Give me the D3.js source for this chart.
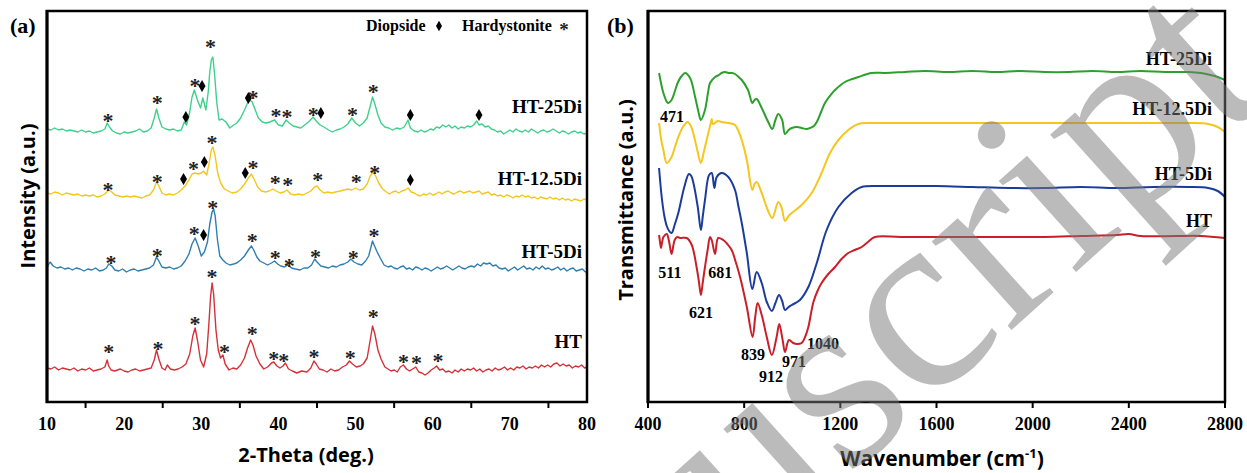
<!DOCTYPE html>
<html lang="en">
<head>
<meta charset="utf-8">
<script src="https://d3js.org/d3.v7.min.js"></script>
<style>
  body { margin: 0; background: #fff; }
  svg { display: block; }
  .serif { font-family: "Liberation Serif", "Times New Roman", serif; font-weight: bold; }
  .sans { font-family: "Open Sans", "Noto Sans", sans-serif; font-weight: bold; }
</style>
</head>
<body>
<svg id="chart" width="1247" height="473"></svg>
<script>
// ---------- data (a): XRD, 2-theta vs intensity (a.u., stacked) ----------
const xrdHT = [[10,34],[10.5,33],[11,35],[11.5,32],[12,34],[12.5,33],[13,32],[13.5,34],[14,31],[14.5,33],[15,32],[15.5,34],[16,31],[16.5,32],[17,33],[17.5,35],[17.8,42],[18,36],[18.3,32],[18.8,31],[19.5,33],[20,31],[20.5,30],[21,32],[21.5,33],[22,31],[22.5,32],[23,33],[23.5,34],[23.9,42],[24.2,52],[24.5,43],[24.9,34],[25.3,32],[25.6,37],[26,33],[26.5,32],[27,33],[27.5,35],[28,38],[28.5,48],[28.9,66],[29.2,74],[29.5,62],[29.9,42],[30.3,35],[30.7,48],[31,80],[31.2,105],[31.4,119],[31.6,108],[31.9,72],[32.2,52],[32.5,44],[32.8,47],[33.1,38],[33.6,32],[34.1,34],[34.6,33],[35.1,37],[35.6,44],[36,54],[36.4,62],[36.7,57],[37.1,46],[37.6,38],[38.1,33],[38.6,35],[39.1,39],[39.4,40],[39.8,36],[40.2,34],[40.6,36],[40.9,39],[41.3,33],[41.8,31],[42.4,29],[43,31],[43.7,30],[44.2,34],[44.6,41],[44.9,38],[45.3,33],[45.8,32],[46.3,30],[46.8,33],[47.3,31],[47.8,32],[48.3,35],[48.8,37],[49.2,41],[49.6,38],[50.1,35],[50.6,36],[51,38],[51.5,44],[51.9,62],[52.2,76],[52.5,68],[52.9,52],[53.3,43],[53.8,35],
  [54.2,33],[54.6,31],[55,32],[55.4,30],[55.8,35],[56.2,37],[56.6,33],[57,31],[57.4,33],[57.8,35],[58.2,30],[58.6,29],[59,27],[59.4,29],[59.8,32],[60.2,34],[60.5,36],[60.9,32],[61.3,33],[61.7,30],[62.1,31],[62.5,29],[62.9,32],[63.3,30],[63.7,33],[64.1,31],[64.5,33],[64.9,32],[65.3,34],[65.7,31],[66.1,33],[66.5,30],[66.9,32],[67.3,33],[67.7,31],[68.1,34],[68.5,32],[68.9,33],[69.3,35],[69.7,32],[70.1,34],[70.5,32],[70.9,35],[71.3,34],[71.7,36],[72.1,33],[72.5,35],[72.9,34],[73.3,36],[73.7,34],[74.1,37],[74.5,35],[74.9,37],[75.3,35],[75.7,38],[76.1,39],[76.5,36],[76.9,38],[77.3,36],[77.7,37],[78.1,34],[78.5,36],[78.9,35],[79.3,37],[79.7,34],[80,35]];
const xrdHT5 = [[10,135],[10.4,140],[10.8,136],[11.3,134],[11.8,135],[12.3,133],[12.8,134],[13.3,132],[13.8,134],[14.3,133],[14.8,131],[15.3,133],[15.8,132],[16.3,134],[16.8,131],[17.3,132],[17.7,134],[18,138],[18.4,136],[18.8,132],[19.3,131],[19.8,133],[20.3,130],[20.8,132],[21.3,133],[21.8,131],[22.3,132],[22.8,133],[23.3,134],[23.8,137],[24.2,145],[24.5,141],[24.9,135],[25.4,134],[25.9,135],[26.4,133],[26.9,134],[27.4,136],[27.9,141],[28.4,148],[28.8,158],[29.2,164],[29.6,156],[30,146],[30.4,150],[30.8,160],[31.1,178],[31.4,190],[31.6,193],[31.8,186],[32.1,162],[32.4,146],[32.8,142],[33.2,139],[33.7,137],[34.2,138],[34.6,139],[35.1,142],[35.6,146],[36.1,152],[36.5,156],[36.8,152],[37.2,145],[37.6,141],[38.1,139],[38.6,137],[39.1,139],[39.5,141],[39.9,138],[40.3,136],[40.8,135],[41.2,137],[41.7,134],[42.2,133],[42.8,132],[43.3,134],[43.8,134],[44.3,137],[44.7,143],[45,140],[45.5,136],[46,135],[46.5,134],[47,136],[47.5,135],[48,137],[48.5,138],[49,140],[49.4,143],[49.8,140],[50.3,138],[50.8,137],[51.3,141],[51.7,146],[52,155],[52.2,161],[52.4,157],[52.8,150],[53.2,144],[53.7,137],
  [54.2,135],[54.6,136],[55,134],[55.4,133],[55.8,135],[56.2,136],[56.6,133],[57,134],[57.4,132],[57.8,135],[58.2,134],[58.6,132],[59,134],[59.4,133],[59.8,131],[60.2,133],[60.6,135],[61,133],[61.4,134],[61.8,136],[62.2,134],[62.6,132],[63,134],[63.4,136],[63.8,134],[64.2,133],[64.6,135],[65,136],[65.4,135],[65.8,138],[66.2,136],[66.6,139],[67,138],[67.4,139],[67.8,136],[68.2,137],[68.6,134],[69,133],[69.4,134],[69.8,131],[70.2,133],[70.6,135],[71,132],[71.4,134],[71.8,136],[72.2,133],[72.6,134],[73,132],[73.4,135],[73.8,133],[74.2,136],[74.6,133],[75,134],[75.4,132],[75.8,133],[76.2,135],[76.6,132],[77,134],[77.4,131],[77.8,133],[78.2,134],[78.6,131],[79,132],[79.4,133],[79.8,130],[80,131]];
const xrdHT12 = [[10,209],[10.5,208],[11,210],[11.5,209],[12,207],[12.5,209],[13,208],[13.5,207],[14,208],[14.5,206],[15,207],[15.5,206],[16,207],[16.5,205],[17,206],[17.5,208],[18,212],[18.4,210],[18.8,207],[19.3,206],[19.8,205],[20.3,206],[20.8,205],[21.3,206],[21.8,205],[22.3,204],[22.8,206],[23.3,207],[23.8,212],[24.2,220],[24.5,216],[24.9,209],[25.4,207],[25.9,208],[26.4,207],[26.9,209],[27.4,212],[27.9,216],[28.4,222],[28.8,228],[29.2,229],[29.6,228],[30,229],[30.3,231],[30.7,227],[31,238],[31.3,252],[31.5,255],[31.8,246],[32.1,230],[32.5,219],[33,213],[33.5,211],[34,209],[34.6,210],[35.1,213],[35.6,218],[36.1,224],[36.5,228],[36.9,222],[37.3,215],[37.8,211],[38.3,210],[38.8,211],[39.3,213],[39.7,211],[40.2,209],[40.7,210],[41.1,212],[41.6,208],[42.1,207],[42.6,208],[43.2,207],[43.7,209],[44.2,211],[44.7,215],[45,216],[45.4,212],[45.9,209],[46.4,210],[46.9,209],[47.4,210],[48,211],[48.5,212],[49,213],[49.5,212],[50,214],[50.5,212],[51,213],[51.5,218],[51.9,226],[52.3,230],[52.6,226],[53,219],[53.5,213],
  [54,210],[54.4,208],[54.8,210],[55.2,211],[55.6,209],[56,211],[56.4,212],[56.8,214],[57.2,210],[57.6,209],[58,207],[58.4,206],[58.8,208],[59.2,207],[59.6,209],[60,207],[60.4,208],[60.8,210],[61.2,208],[61.6,210],[62,211],[62.4,209],[62.8,208],[63.2,210],[63.6,211],[64,209],[64.4,210],[64.8,211],[65.2,209],[65.6,210],[66,211],[66.4,208],[66.8,209],[67.2,210],[67.6,207],[68,208],[68.4,206],[68.8,207],[69.2,205],[69.6,207],[70,206],[70.4,204],[70.8,206],[71.2,205],[71.6,207],[72,205],[72.4,206],[72.8,204],[73.2,205],[73.6,203],[74,205],[74.4,204],[74.8,203],[75.2,205],[75.6,203],[76,204],[76.4,202],[76.8,204],[77.2,202],[77.6,203],[78,201],[78.4,203],[78.8,202],[79.2,201],[79.6,203],[80,202]];
const xrdHT25 = [[10,273],[10.5,272],[11,274],[11.5,272],[12,273],[12.5,271],[13,272],[13.5,271],[14,270],[14.5,272],[15,270],[15.5,271],[16,269],[16.5,270],[17,271],[17.5,273],[17.8,279],[18.1,275],[18.5,271],[19,269],[19.5,268],[20,270],[20.5,269],[21,270],[21.5,271],[22,273],[22.5,270],[23,271],[23.5,274],[23.9,284],[24.2,293],[24.5,284],[24.9,275],[25.4,273],[25.9,272],[26.4,273],[26.9,271],[27.4,272],[27.8,280],[28.1,277],[28.5,290],[28.8,305],[29.1,312],[29.5,302],[29.9,294],[30.2,304],[30.6,292],[30.9,310],[31.1,330],[31.3,342],[31.5,345],[31.7,330],[32,300],[32.3,282],[32.7,283],[33.2,280],[33.7,274],[34.2,277],[34.6,279],[35.1,284],[35.6,292],[36,299],[36.3,302],[36.6,300],[37,292],[37.4,284],[37.9,280],[38.4,279],[38.9,280],[39.5,282],[40,277],[40.5,276],[41,282],[41.4,279],[41.9,276],[42.4,275],[42.9,274],[43.4,277],[43.9,280],[44.5,285],[44.9,281],[45.4,277],[45.9,275],[46.5,272],[47,270],[47.5,272],[48,273],[48.5,275],[49,278],[49.5,284],[50,279],[50.5,276],[51,279],[51.5,284],[51.9,296],[52.2,305],[52.5,298],[52.9,287],[53.3,279],[53.8,275],[54.3,274],[54.8,272],[55.3,274],[55.8,273],[56.3,275],[56.8,282],[57.1,274],[57.6,271],
  [58.1,270],[58.5,272],[58.9,270],[59.3,271],[59.7,273],[60.1,272],[60.5,275],[60.9,274],[61.3,277],[61.7,275],[62.1,277],[62.5,274],[62.9,276],[63.3,273],[63.7,275],[64.1,274],[64.5,276],[64.9,275],[65.3,277],[65.7,281],[66,277],[66.4,278],[66.8,275],[67.2,276],[67.6,273],[68,272],[68.4,270],[68.8,271],[69.2,268],[69.6,270],[70,272],[70.4,270],[70.8,273],[71.2,271],[71.6,270],[72,272],[72.4,270],[72.8,273],[73.2,271],[73.6,269],[74,271],[74.4,272],[74.8,270],[75.2,271],[75.6,273],[76,271],[76.4,269],[76.8,271],[77.2,270],[77.6,268],[78,270],[78.4,271],[78.8,269],[79.2,270],[79.6,268],[80,269]];

// phase markers: [2theta, intensity]
const starsA = [[17.9,286],[24.3,304],[29.2,321],[31.2,360],[36.7,309],[39.7,291],[41.1,290],[44.5,292],[49.6,292],[52.3,315],
                [17.9,217],[24.3,225],[29.0,238],[31.4,264],[36.7,239],[39.6,224],[41.2,222],[45.1,227],[50.1,225],[52.5,234],
                [18.3,144],[24.3,151],[29.1,173],[31.5,199],[36.6,166],[39.6,149],[41.4,141],[44.8,150],[49.7,149],[52.4,171],
                [18.0,55],[24.4,58],[29.2,83],[31.4,130],[33.0,55],[36.6,73],[39.4,48],[40.7,46],[44.6,50],[49.3,49],[52.3,90],[56.2,45],[57.9,44],[60.7,46]];
const diamondsA = [[28.0,285],[30.1,316],[36.1,304],[45.5,289],[57.1,287],[66.0,287],
                   [27.7,223],[30.4,240],[35.7,229],[57.1,222],
                   [30.3,167]];

// ---------- data (b): FTIR, wavenumber vs transmittance (a.u., stacked) ----------
const ftirHT25 = [[446,329],[455,318],[464,309],[483,299],[498,302],[512,311],[525,320],[540,326],[554,329],[575,324],[596,305],[610,290],[620,282],[637,292],[650,310],[658,319],[679,325],[695,327],[706,329],[720,330],[735,329],[750,329],[762,328],[777,325],[790,322],[816,312],[834,299],[843,302],[852,303],[873,294],[900,280],[917,273],[930,282],[942,288],[958,282],[970,268],[985,272],[998,274],[1020,275],[1039,274],[1060,273],[1074,274],[1090,276],[1102,280],[1120,290],[1136,299],[1160,307],[1178,312],[1219,320],[1250,323],[1275,325],[1330,329],[1386,329],[1469,330],[1550,331],[1650,330],[1750,331],[1850,330],[1950,331],[2050,330],[2150,330],[2250,331],[2350,330],[2450,331],[2550,330],[2650,330],[2700,329],[2740,327],[2770,325],[2800,322]];
const ftirHT12 = [[446,279],[455,262],[464,252],[478,239],[498,245],[512,255],[526,265],[545,275],[565,280],[578,276],[588,269],[605,252],[620,239],[632,250],[644,262],[662,280],[665,283],[670,278],[690,281],[706,280],[735,279],[762,277],[778,270],[790,262],[811,242],[834,212],[843,218],[852,220],[873,209],[898,192],[917,184],[942,200],[955,195],[970,181],[985,186],[998,189],[1039,197],[1081,209],[1122,229],[1157,249],[1192,262],[1233,272],[1275,278],[1330,279],[1450,279],[1600,279],[1750,279],[1900,279],[2050,279],[2200,279],[2350,279],[2500,279],[2650,279],[2730,278],[2770,275],[2800,270]];
const ftirHT5 = [[446,234],[457,205],[468,186],[478,176],[488,171],[498,169],[512,178],[526,189],[551,215],[570,228],[580,226],[588,220],[607,195],[620,172],[628,186],[637,202],[654,227],[665,229],[676,214],[686,225],[706,229],[734,225],[762,212],[775,197],[790,179],[811,149],[834,113],[852,130],[873,119],[894,100],[915,91],[930,99],[945,107],[958,101],[970,92],[985,95],[998,97],[1032,102],[1067,115],[1102,139],[1143,172],[1192,195],[1247,209],[1289,215],[1358,216],[1450,216],[1600,216],[1750,215],[1900,214],[2050,214],[2200,215],[2350,214],[2500,215],[2650,215],[2730,214],[2770,211],[2800,205]];
const ftirHT = [[446,167],[450,160],[454,154],[459,160],[464,165],[478,168],[488,160],[498,148],[511,162],[522,165],[533,164],[561,164],[582,157],[602,135],[612,120],[620,107],[628,120],[637,135],[648,152],[658,165],[665,162],[679,148],[692,164],[713,162],[730,158],[748,152],[765,140],[783,125],[811,95],[835,65],[846,85],[856,99],[873,87],[894,65],[915,47],[935,65],[946,78],[960,62],[970,50],[986,62],[1004,59],[1020,58],[1039,59],[1055,66],[1067,75],[1088,100],[1105,111],[1122,119],[1150,128],[1178,135],[1205,143],[1233,149],[1260,152],[1289,155],[1315,160],[1344,165],[1450,165],[1600,165],[1750,165],[1900,165],[2050,165],[2200,166],[2350,167],[2400,168],[2450,166],[2600,166],[2700,166],[2800,164]];
// band labels: [text, wavenumber of label centre, transmittance of baseline]
const bandLabels = [["471",500,280],["511",491,124],["681",700,124],["621",620,84],["839",837,42],["912",912,20],["971",1007,35],["1040",1128,53]];

const seriesA = [
  {name: "HT-25Di",   data: xrdHT25, color: "#3fd08e", labelY: 289},
  {name: "HT-12.5Di", data: xrdHT12, color: "#f2c81c", labelY: 217},
  {name: "HT-5Di",    data: xrdHT5,  color: "#2f7fae", labelY: 144},
  {name: "HT",        data: xrdHT,   color: "#d4313a", labelY: 54}
];
const seriesB = [
  {name: "HT-25Di",   data: ftirHT25, color: "#2ca02c", labelY: 337},
  {name: "HT-12.5Di", data: ftirHT12, color: "#f5c61e", labelY: 287},
  {name: "HT-5Di",    data: ftirHT5,  color: "#1c3c9c", labelY: 222},
  {name: "HT",        data: ftirHT,   color: "#c8202a", labelY: 175}
];
const ticksA = [10, 20, 30, 40, 50, 60, 70, 80];
const minorTicksA = [15, 25, 35, 45, 55, 65, 75];
const ticksB = [400, 800, 1200, 1600, 2000, 2400, 2800];

const svg = d3.select("#chart");

// ---------- panel (a) ----------
const xA = d3.scaleLinear().domain([10, 80]).range([47, 587]);
const yA = d3.scaleLinear().domain([0, 391]).range([402, 11]);
const lineA = d3.line().x(d => xA(d[0])).y(d => yA(d[1]));

const gA = svg.append("g");
seriesA.forEach(s => {
  gA.append("path").datum(s.data)
    .attr("d", lineA).attr("fill", "none")
    .attr("stroke", s.color).attr("stroke-width", 1.4).attr("stroke-linejoin", "round");
  gA.append("text").attr("class", "serif")
    .attr("x", 582).attr("y", yA(s.labelY)).attr("text-anchor", "end")
    .attr("font-size", 19).text(s.name);
});

gA.selectAll(".star").data(starsA).enter().append("text")
  .attr("class", "serif star")
  .attr("x", d => xA(d[0])).attr("y", d => yA(d[1]))
  .attr("dy", "0.55em").attr("text-anchor", "middle")
  .attr("font-size", 22).attr("fill", "#222").text("*");

gA.selectAll(".dia").data(diamondsA).enter().append("path")
  .attr("transform", d => `translate(${xA(d[0])},${yA(d[1])})`)
  .attr("d", d3.symbol(d3.symbolDiamond, 42)).attr("fill", "#000");

// frame + axes
gA.append("rect").attr("x", 47).attr("y", 11).attr("width", 540).attr("height", 391)
  .attr("fill", "none").attr("stroke", "#000").attr("stroke-width", 2.5);
gA.append("line").attr("x1", 47).attr("x2", 47).attr("y1", 10).attr("y2", 403).attr("stroke", "#000").attr("stroke-width", 3);
const axA = gA.append("g").attr("transform", "translate(0,402)");
axA.selectAll("line").data(minorTicksA).enter().append("line")
  .attr("x1", d => xA(d)).attr("x2", d => xA(d)).attr("y1", 0).attr("y2", 6)
  .attr("stroke", "#000").attr("stroke-width", 2);
axA.selectAll("text").data(ticksA).enter().append("text")
  .attr("class", "serif").attr("x", d => xA(d)).attr("y", 28)
  .attr("text-anchor", "middle").attr("font-size", 18).text(d => d);

gA.append("text").attr("class", "sans").attr("x", 306).attr("y", 462)
  .attr("text-anchor", "middle").attr("font-size", 20).text("2-Theta (deg.)");
gA.append("text").attr("class", "sans")
  .attr("transform", "translate(35,196) rotate(-90)")
  .attr("text-anchor", "middle").attr("font-size", 20).text("Intensity (a.u.)");
gA.append("text").attr("class", "serif").attr("x", 10).attr("y", 33)
  .attr("font-size", 22).text("(a)");

// legend
const legA = gA.append("g").attr("class", "serif").attr("font-size", 16);
legA.append("text").attr("x", 366).attr("y", 31).text("Diopside");
legA.append("path").attr("transform", "translate(439,26)")
  .attr("d", d3.symbol(d3.symbolDiamond, 32)).attr("fill", "#000");
legA.append("text").attr("x", 462).attr("y", 31).text("Hardystonite");
legA.append("text").attr("x", 564).attr("y", 26).attr("dy", "0.5em")
  .attr("text-anchor", "middle").attr("font-size", 19).attr("fill", "#222").text("*");

// ---------- panel (b) ----------
const xB = d3.scaleLinear().domain([400, 2800]).range([648, 1225]);
const yB = d3.scaleLinear().domain([0, 391]).range([402, 11]);
const lineB = d3.line().x(d => xB(d[0])).y(d => yB(d[1])).curve(d3.curveCatmullRom);

const gB = svg.append("g");
seriesB.forEach(s => {
  gB.append("path").datum(s.data)
    .attr("d", lineB).attr("fill", "none")
    .attr("stroke", s.color).attr("stroke-width", 2).attr("stroke-linejoin", "round");
  gB.append("text").attr("class", "serif")
    .attr("x", 1212).attr("y", yB(s.labelY)).attr("text-anchor", "end")
    .attr("font-size", 18).text(s.name);
});
gB.selectAll(".band").data(bandLabels).enter().append("text")
  .attr("class", "serif").attr("x", d => xB(d[1])).attr("y", d => yB(d[2]))
  .attr("text-anchor", "middle").attr("font-size", 16).text(d => d[0]);

gB.append("rect").attr("x", 648).attr("y", 11).attr("width", 577).attr("height", 391)
  .attr("fill", "none").attr("stroke", "#000").attr("stroke-width", 2.5);
gB.append("line").attr("x1", 648).attr("x2", 648).attr("y1", 10).attr("y2", 403).attr("stroke", "#000").attr("stroke-width", 3);
const axB = gB.append("g").attr("transform", "translate(0,402)");
axB.selectAll("line").data(ticksB).enter().append("line")
  .attr("x1", d => xB(d)).attr("x2", d => xB(d)).attr("y1", 0).attr("y2", 6)
  .attr("stroke", "#000").attr("stroke-width", 2);
axB.selectAll("text").data(ticksB).enter().append("text")
  .attr("class", "serif").attr("x", d => xB(d)).attr("y", 28)
  .attr("text-anchor", "middle").attr("font-size", 18).text(d => d);

const xt = gB.append("text").attr("class", "sans").attr("x", 942).attr("y", 466)
  .attr("text-anchor", "middle").attr("font-size", 21);
xt.append("tspan").text("Wavenumber (cm");
xt.append("tspan").attr("font-size", 13).attr("dy", -8).text("-1");
xt.append("tspan").attr("dy", 8).text(")");
gB.append("text").attr("class", "sans")
  .attr("transform", "translate(633,200) rotate(-90)")
  .attr("text-anchor", "middle").attr("font-size", 20).text("Transmittance (a.u.)");
gB.append("text").attr("class", "serif").attr("x", 607).attr("y", 33)
  .attr("font-size", 22).text("(b)");

// watermark
svg.append("text")
  .attr("transform", "translate(1276,92) rotate(-42)")
  .attr("text-anchor", "end")
  .attr("font-family", "Liberation Serif, serif")
  .attr("font-size", 260).attr("fill", "#7a7a7a").attr("opacity", 0.5)
  .text("Manuscript");
</script>
</body>
</html>
